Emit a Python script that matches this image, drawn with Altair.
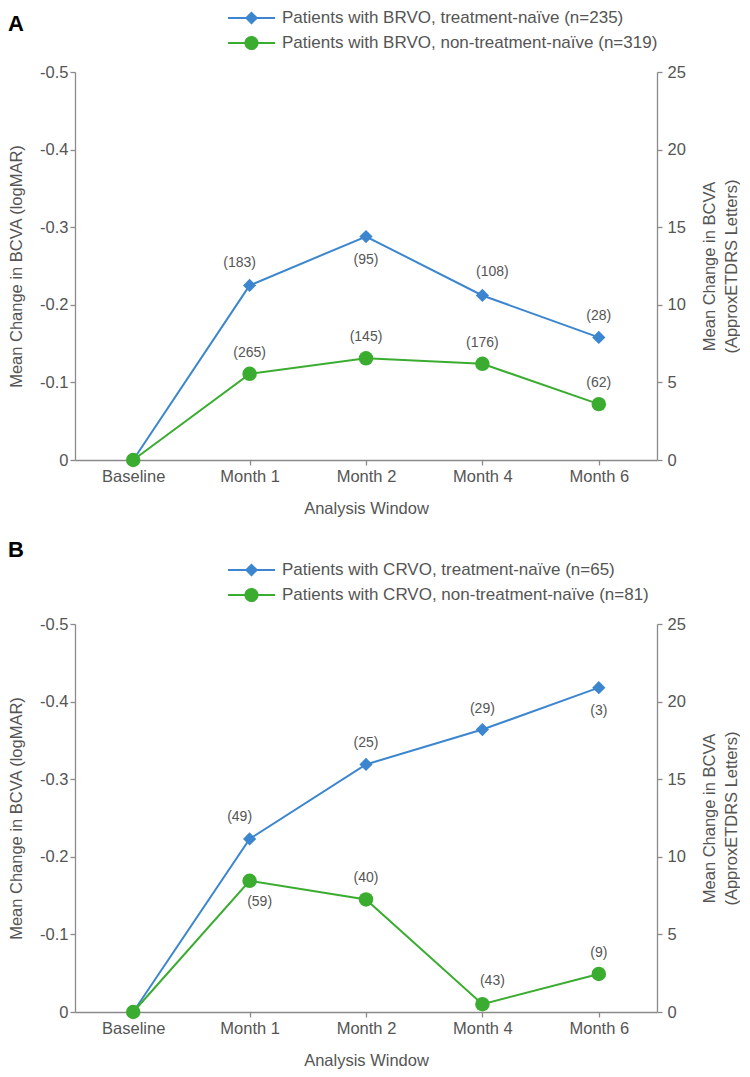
import altair as alt
import pandas as pd

FONT = "Liberation Sans"
BLUE = "#3b86cf"
GREEN = "#3aac30"
TXT = "#555555"
AX = "#8a8a8a"

windows = ["Baseline", "Month 1", "Month 2", "Month 4", "Month 6"]

# Panel A (BRVO)
a_series = ["Patients with BRVO, treatment-naïve (n=235)",
            "Patients with BRVO, non-treatment-naïve (n=319)"]
a_naive = [0, -0.225, -0.288, -0.212, -0.158]
a_non = [0, -0.111, -0.131, -0.124, -0.072]
a_naive_n = [None, 183, 95, 108, 28]
a_non_n = [None, 265, 145, 176, 62]
a_naive_place = [None, "above-left", "below", "above-right", "above"]
a_non_place = [None, "above", "above", "above", "above"]

# Panel B (CRVO)
b_series = ["Patients with CRVO, treatment-naïve (n=65)",
            "Patients with CRVO, non-treatment-naïve (n=81)"]
b_naive = [0, -0.223, -0.319, -0.364, -0.418]
b_non = [0, -0.169, -0.145, -0.010, -0.049]
b_naive_n = [None, 49, 25, 29, 3]
b_non_n = [None, 59, 40, 43, 9]
b_naive_place = [None, "above-left", "above", "above", "below"]
b_non_place = [None, "below-right", "above", "above-right", "above"]

logmar_ticks = [-0.5, -0.4, -0.3, -0.2, -0.1, 0]
letter_ticks = [0, 5, 10, 15, 20, 25]

PLACES = {
    "above": (0, -21),
    "below": (0, 23),
    "above-left": (-10, -22),
    "above-right": (10, -23),
    "below-right": (10, 21),
}

# legend symbols: line through marker (unit path, scaled by legend symbol size)
PATH_DIAMOND = "M-1,-0.043L1,-0.043L1,0.043L-1,0.043Z M0,-0.28L0.28,0L0,0.28L-0.28,0Z"
PATH_CIRCLE = ("M-1,-0.043L1,-0.043L1,0.043L-1,0.043Z "
               "M-0.3,0A0.3,0.3 0 1,1 0.3,0A0.3,0.3 0 1,1 -0.3,0Z")

W, H = 582, 388
FS = 16.5


def panel(series, naive, non, naive_n, non_n, naive_place, non_place, letter, letter_y):
    rows = []
    for key, name, vals, ns, places in [("naive", series[0], naive, naive_n, naive_place),
                                        ("non", series[1], non, non_n, non_place)]:
        for w, v, n, p in zip(windows, vals, ns, places):
            rows.append({"window": w, "series": name, "grp": key, "val": v, "n": n, "place": p})
    df = pd.DataFrame(rows)
    base = alt.Chart(df)

    x = alt.X("window:N", sort=windows,
              scale=alt.Scale(type="point", padding=0.5),
              axis=alt.Axis(title="Analysis Window", labelAngle=0, tickSize=5,
                            labelPadding=3, titlePadding=16))
    y = alt.Y("val:Q",
              scale=alt.Scale(domain=[-0.5, 0], reverse=True, nice=False, zero=False),
              axis=alt.Axis(title="Mean Change in BCVA (logMAR)", values=logmar_ticks,
                            labelExpr="datum.value == 0 ? '0' : '-' + format(-datum.value, '.1f')",
                            tickSize=5, labelPadding=2, titlePadding=15))

    layers = []
    for key, color, shape, size in [("naive", BLUE, "diamond", 175), ("non", GREEN, "circle", 210)]:
        sub = base.transform_filter(alt.datum.grp == key)
        layers.append(sub.mark_line(color=color, strokeWidth=2).encode(x=x, y=y))
        layers.append(sub.mark_point(color=color, shape=shape, size=size, filled=True,
                                     opacity=1).encode(x=x, y=y))
    for place, (dx, dy) in PLACES.items():
        layers.append(
            base.transform_filter(alt.datum.place == place)
            .transform_calculate(lab="'(' + datum.n + ')'")
            .mark_text(dx=dx, dy=dy, fontSize=14, color=TXT, font=FONT, baseline="middle")
            .encode(x=x, y=y, text="lab:N")
        )

    leg = alt.Legend(title=None, orient="none", legendX=153, legendY=-64,
                     direction="vertical", symbolSize=2209, symbolStrokeWidth=0,
                     symbolOpacity=1, clipHeight=20, rowPadding=5, labelOffset=7,
                     labelFontSize=17, labelColor=TXT, labelFont=FONT, labelLimit=600,
                     padding=0)
    layers.append(
        base.mark_point(filled=True, opacity=0).encode(
            x=x, y=y,
            color=alt.Color("series:N", scale=alt.Scale(domain=series, range=[BLUE, GREEN]),
                            legend=leg),
            shape=alt.Shape("series:N", scale=alt.Scale(domain=series,
                                                        range=[PATH_DIAMOND, PATH_CIRCLE]),
                            legend=leg),
        )
    )
    layers.append(
        alt.Chart(alt.Data(values=[{"t": letter}]))
        .mark_text(fontSize=22, fontWeight="bold", color="#000000", font=FONT,
                   align="left", baseline="middle")
        .encode(x=alt.value(-67), y=alt.value(letter_y), text="t:N")
    )
    left = alt.layer(*layers)

    right = base.transform_calculate(letters="-datum.val * 50").mark_point(opacity=0).encode(
        x=x,
        y=alt.Y("letters:Q", scale=alt.Scale(domain=[0, 25], nice=False),
                axis=alt.Axis(orient="right", values=letter_ticks,
                              title=["Mean Change in BCVA", "(ApproxETDRS Letters)"],
                              titleAngle=270, titleBaseline="top", titlePadding=-6,
                              titleLineHeight=22, tickSize=5, labelPadding=5)),
    )
    return alt.layer(left, right).resolve_scale(y="independent").properties(width=W, height=H)


pa = panel(a_series, a_naive, a_non, a_naive_n, a_non_n, a_naive_place, a_non_place, "A", -48)
pb = panel(b_series, b_naive, b_non, b_naive_n, b_non_n, b_naive_place, b_non_place, "B", -74)

chart = (
    alt.vconcat(pa, pb, spacing=22)
    .resolve_scale(color="independent", shape="independent")
    .properties(padding=0)
    .configure_axis(labelFont=FONT, titleFont=FONT, labelFontSize=FS, titleFontSize=FS,
                    labelColor=TXT, titleColor=TXT, domainColor=AX, tickColor=AX,
                    domainWidth=1.3, tickWidth=1.3, grid=False, titleFontWeight="normal")
    .configure_view(stroke=None)
)

chart.save("out.html", embed_options={"renderer": "svg", "actions": False})
